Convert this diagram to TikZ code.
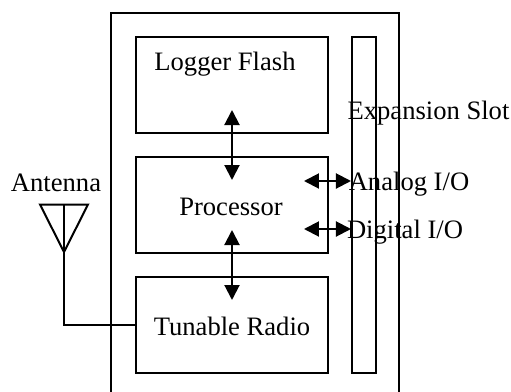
\documentclass[tikz,border=0pt]{standalone}
\usepackage{fontspec}
\setmainfont{Liberation Serif}
\usetikzlibrary{arrows.meta}
\begin{document}
\begin{tikzpicture}[x=0.5pt,y=-0.5pt,line width=1pt]
	\useasboundingbox (0,0) rectangle (511,392);
	\tikzstyle{every node}=[font=\fontsize{13.3}{16}\selectfont,inner sep=0pt];
	\tikzstyle{box}=[draw,line width=1pt,minimum width=96.25pt,minimum height=48pt];
	\tikzstyle{link}=[{Triangle[length=7.5pt,width=7.5pt]}-{Triangle[length=7.5pt,width=7.5pt]}];
	\coordinate (c1) at (111.5,392);
	\coordinate (c2) at (111.5,13);
	\coordinate (c3) at (399.5,13);
	\coordinate (c4) at (399.5,392);
	\draw (c1)--(c2)--(c3)--(c4);
	\node[box] (flash) at (232,84.5) {};
	\node[box] (proc) at (232,204.5) {};
	\node[box] (radio) at (232,324.5) {};
	\node[draw,line width=1pt,minimum width=12pt,minimum height=168pt] (slot) at (364,204.5) {};
	\node (flashtext) at (225,64) {Logger Flash};
	\node (proctext) at (231,206.5) {Processor};
	\node (radiotext) at (232,326) {Tunable Radio};
	\node (slottext) at (428.5,113) {Expansion Slot};
	\node (analog) at (409,184) {Analog I/O};
	\node (digital) at (405,232) {Digital I/O};
	\node (anttext) at (56,183) {Antenna};
	% antenna
	\coordinate (a1) at (40,204.5);
	\coordinate (a2) at (88,204.5);
	\coordinate (a3) at (64,252);
	\coordinate (a4) at (64,204.5);
	\coordinate (a5) at (64,324.5);
	\draw (a1)--(a2)--(a3)--cycle;
	\draw (a4)--(a3)--(a5)--(radio.west);
	% arrows
	\coordinate (u1) at (232,110);
	\coordinate (u2) at (232,180);
	\coordinate (u3) at (232,230);
	\coordinate (u4) at (232,300);
	\coordinate (r1) at (304,181);
	\coordinate (r2) at (351,181);
	\coordinate (r3) at (304,229);
	\coordinate (r4) at (351,229);
	\draw[link] (u1)--(u2);
	\draw[link] (u3)--(u4);
	\draw[link] (r1)--(r2);
	\draw[link] (r3)--(r4);
\end{tikzpicture}
\end{document}
